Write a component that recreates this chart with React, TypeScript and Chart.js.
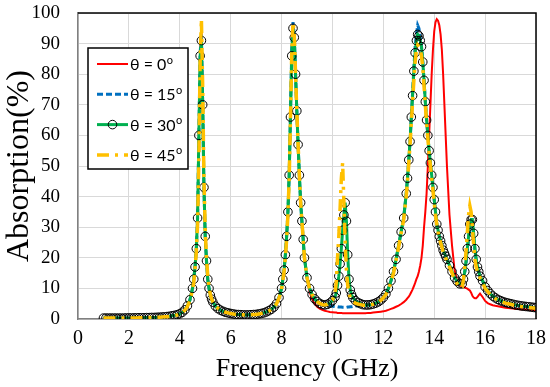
import React, { useEffect, useRef } from "react";
import { Chart, registerables } from "chart.js";

Chart.register(...registerables);

// Frequency samples (GHz)
const freq = [
  1.0, 1.1, 1.2, 1.3, 1.4, 1.5, 1.6, 1.7, 1.8, 1.9, 2.0, 2.1, 2.2, 2.3, 2.4, 2.5, 2.6, 2.7, 2.8, 2.9,
  3.0, 3.1, 3.2, 3.3, 3.4, 3.5, 3.6, 3.7, 3.8, 3.9, 4.0, 4.1, 4.2, 4.3, 4.4,
  4.5, 4.55, 4.6, 4.65, 4.7, 4.75, 4.8, 4.85, 4.9, 4.95, 5.0, 5.05, 5.1, 5.15, 5.2, 5.25, 5.3,
  5.4, 5.5, 5.6, 5.7, 5.8, 5.9, 6.0, 6.1, 6.2, 6.3, 6.4, 6.5, 6.6, 6.7, 6.8, 6.9, 7.0, 7.1, 7.2, 7.3, 7.4, 7.5, 7.6, 7.7, 7.8, 7.9, 8.0,
  8.05, 8.1, 8.15, 8.2, 8.25, 8.3, 8.35, 8.4, 8.45, 8.5, 8.55, 8.6, 8.65, 8.7, 8.75, 8.8, 8.85, 8.9,
  9.0, 9.1, 9.2, 9.3, 9.4, 9.5, 9.6, 9.7, 9.8, 9.9, 10.0, 10.1,
  10.15, 10.2, 10.25, 10.3, 10.35, 10.4, 10.45, 10.5, 10.55, 10.6, 10.65, 10.7, 10.75, 10.8,
  10.9, 11.0, 11.1, 11.2, 11.3, 11.4, 11.5, 11.6, 11.7, 11.8, 11.9, 12.0, 12.1, 12.2, 12.3, 12.4, 12.5, 12.6, 12.7, 12.8, 12.9,
  12.95, 13.0, 13.05, 13.1, 13.15, 13.2, 13.25, 13.3, 13.35, 13.4, 13.45, 13.5, 13.55, 13.6, 13.65, 13.7, 13.75, 13.8, 13.85, 13.9, 13.95, 14.0, 14.05, 14.1, 14.15, 14.2, 14.25, 14.3, 14.35, 14.4, 14.45, 14.5,
  14.6, 14.7, 14.8, 14.9, 15.0, 15.1,
  15.15, 15.2, 15.25, 15.3, 15.35, 15.4, 15.45, 15.5, 15.55, 15.6, 15.65, 15.7, 15.75, 15.8,
  15.9, 16.0, 16.1, 16.2, 16.3, 16.4, 16.5, 16.6, 16.7, 16.8, 16.9, 17.0, 17.1, 17.2, 17.3, 17.4, 17.5, 17.6, 17.7, 17.8, 17.9, 18.0,
];

// Absorption (%) for θ = 0°
const abs0 = [
  0.3, 0.3, 0.3, 0.3, 0.3, 0.3, 0.3, 0.3, 0.3, 0.35, 0.35, 0.35, 0.35, 0.4, 0.4, 0.4, 0.4, 0.45, 0.45, 0.5,
  0.5, 0.55, 0.6, 0.65, 0.7, 0.8, 0.9, 1.05, 1.2, 1.4, 1.7, 2.2, 3.0, 4.3, 6.3,
  10, 13, 17, 23, 33, 60, 88, 95, 72, 44, 27, 19, 13, 10, 7.8, 6.5, 5.5,
  4.2, 3.4, 2.9, 2.5, 2.2, 2.0, 1.8, 1.65, 1.5, 1.45, 1.4, 1.35, 1.3, 1.35, 1.4, 1.45, 1.5, 1.65, 1.8, 2.0, 2.3, 2.7, 3.2, 3.9, 5.0, 7.0, 10.0,
  13, 16, 21, 27, 35, 47, 67, 88, 97, 93, 80, 68, 57, 47, 38, 32, 26, 20,
  13, 9, 6.5, 5, 4, 3.4, 3, 2.7, 2.5, 2.3, 2.2, 2.1,
  2.1, 2.0, 2.0, 2.0, 2.0, 1.9, 1.9, 1.9, 1.9, 1.9, 1.9, 1.9, 1.9, 1.9,
  1.9, 1.9, 1.9, 1.9, 1.9, 2.0, 2.0, 2.1, 2.2, 2.3, 2.4, 2.5, 2.7, 3.0, 3.3, 3.6, 4.0, 4.4, 4.9, 5.5, 6.3,
  6.8, 7.3, 8, 8.8, 9.7, 10.7, 11.8, 13, 14, 15.5, 17.5, 20, 24, 30, 35, 41, 50, 60, 70, 80, 88, 94, 97, 98, 97.5, 96, 93, 88, 80, 70, 60, 50,
  34, 24, 16, 12.5, 11, 10.7,
  10.5, 10.3, 10.1, 9.9, 9.6, 9.3, 8.6, 7.6, 7.0, 6.8, 6.8, 7.2, 7.8, 8.3,
  7.2, 5.9, 5.2, 4.8, 4.5, 4.3, 4.15, 4.0, 3.85, 3.7, 3.6, 3.5, 3.4, 3.3, 3.25, 3.2, 3.15, 3.1, 3.05, 3.0, 2.95, 2.9,
];

// Absorption (%) for θ = 15°
const abs15 = [
  0.3, 0.3, 0.3, 0.3, 0.3, 0.3, 0.3, 0.3, 0.3, 0.35, 0.35, 0.35, 0.35, 0.4, 0.4, 0.4, 0.4, 0.45, 0.45, 0.5,
  0.5, 0.55, 0.6, 0.65, 0.7, 0.8, 0.9, 1.05, 1.2, 1.4, 1.7, 2.2, 3.0, 4.3, 6.3,
  10, 13, 17, 23, 33, 60, 87, 93, 71, 43, 27, 19, 13, 10, 7.8, 6.5, 5.5,
  4.2, 3.4, 2.9, 2.5, 2.2, 2.0, 1.8, 1.65, 1.5, 1.45, 1.4, 1.35, 1.3, 1.35, 1.4, 1.45, 1.5, 1.65, 1.8, 2.0, 2.3, 2.7, 3.2, 3.9, 5.0, 7.0, 10.0,
  13, 16, 21, 27, 35, 47, 67, 88, 97, 93, 80, 68, 57, 47, 38, 32, 26, 20,
  13.5, 10, 8, 6.6, 5.7, 5.1, 4.7, 4.5, 4.4, 4.3, 4.2, 4.1,
  4.0, 4.0, 3.9, 3.9, 3.9, 3.8, 3.8, 3.8, 3.8, 3.9, 3.9, 4.0, 4.0, 4.1,
  4.2, 4.3, 4.4, 4.5, 4.6, 4.6, 4.7, 4.9, 5.2, 5.6, 6.2, 7, 8.2, 10, 12.5, 15.5, 19.5, 24, 28.5, 33, 41,
  46, 52, 58, 66, 74, 82, 89, 93, 96, 95, 92, 89, 84, 78, 71, 65, 60, 55, 51, 47, 43, 39, 35, 31, 29, 27, 25.5, 24, 22.5, 21.5, 20.5, 19.5,
  17.5, 15.5, 13.5, 12.3, 11.5, 11.5,
  13, 15, 18, 22, 26, 29.5, 31, 31, 27, 22.5, 19, 17, 15.5, 14,
  12.5, 10.5, 9.3, 8.3, 7.5, 6.9, 6.4, 6.0, 5.7, 5.4, 5.2, 5.0, 4.8, 4.6, 4.45, 4.3, 4.2, 4.1, 4.0, 3.9, 3.8, 3.7,
];

// Absorption (%) for θ = 30°
const abs30 = [
  0.3, 0.3, 0.3, 0.3, 0.3, 0.3, 0.3, 0.3, 0.3, 0.35, 0.35, 0.35, 0.35, 0.4, 0.4, 0.4, 0.4, 0.45, 0.45, 0.5,
  0.5, 0.55, 0.6, 0.65, 0.7, 0.8, 0.9, 1.05, 1.2, 1.4, 1.7, 2.2, 3.0, 4.3, 6.3,
  10, 13, 17, 23, 33, 60, 86, 91, 70, 43, 27, 19, 13, 10, 7.8, 6.5, 5.5,
  4.2, 3.4, 2.9, 2.5, 2.2, 2.0, 1.8, 1.65, 1.5, 1.45, 1.4, 1.35, 1.3, 1.35, 1.4, 1.45, 1.5, 1.65, 1.8, 2.0, 2.3, 2.7, 3.2, 3.9, 5.0, 7.0, 10.0,
  13, 16, 21, 27, 35, 47, 66, 86, 95, 92, 80, 68, 57, 47, 38, 32, 26, 20,
  13.5, 10, 8, 6.6, 5.7, 5.1, 4.7, 4.6, 4.8, 5.2, 6.0, 7.2,
  8.5, 11, 14, 18, 23, 29, 34, 38, 32, 21, 13, 9.5, 8, 7,
  6, 5.4, 5, 4.7, 4.6, 4.6, 4.7, 4.9, 5.2, 5.6, 6.2, 7, 8.2, 10, 12.5, 15.5, 19.5, 24, 28.5, 33, 41,
  46, 52, 58, 66, 73, 81, 87, 91, 93, 92.5, 91, 89, 84, 78, 71, 65, 60, 55, 51, 47, 43, 39, 35, 31, 29, 27, 25.5, 24, 22.5, 21.5, 20.5, 19.5,
  17.5, 15.5, 13.5, 12.3, 11.5, 11.5,
  13, 15.5, 19, 23, 27, 31, 32.5, 32.5, 28, 23, 19.5, 17, 15.5, 14,
  12.5, 10.5, 9.3, 8.3, 7.5, 6.9, 6.4, 6.0, 5.7, 5.4, 5.2, 5.0, 4.8, 4.6, 4.45, 4.3, 4.2, 4.1, 4.0, 3.9, 3.8, 3.7,
];

// Absorption (%) for θ = 45°
const abs45 = [
  0.3, 0.3, 0.3, 0.3, 0.3, 0.3, 0.3, 0.3, 0.3, 0.3, 0.35, 0.35, 0.35, 0.35, 0.4, 0.4, 0.4, 0.4, 0.45, 0.45,
  0.5, 0.55, 0.6, 0.65, 0.7, 0.75, 0.85, 1.0, 1.1, 1.3, 1.6, 2.1, 2.9, 4.1, 6.0,
  9.5, 12, 16, 22, 31, 52, 84, 98, 76, 46, 29, 20, 14, 10.5, 8, 6.6, 5.6,
  4.3, 3.5, 2.9, 2.5, 2.2, 2.0, 1.8, 1.65, 1.5, 1.45, 1.4, 1.35, 1.3, 1.35, 1.4, 1.45, 1.5, 1.65, 1.8, 2.0, 2.3, 2.6, 3.1, 3.8, 4.9, 6.8, 9.7,
  12.5, 15.5, 20, 26, 34, 46, 65, 87, 97, 93, 80, 68, 57, 47, 38, 32, 26, 20,
  13.5, 10, 8, 6.6, 5.7, 5.1, 4.7, 4.6, 4.8, 5.3, 6.2, 8,
  12, 20, 27, 36, 46, 51, 38, 25, 16, 11, 8.5, 7, 6.2, 5.7,
  5.2, 4.9, 4.7, 4.5, 4.5, 4.5, 4.6, 4.8, 5.1, 5.5, 6.1, 6.9, 8, 9.7, 12, 15, 19, 23.5, 28, 32.5, 40,
  45, 51, 57, 64, 71, 78, 84, 88, 89.5, 89, 88, 86, 82, 76, 70, 64, 59, 54, 50, 46, 42, 38, 34, 31, 28.5, 26.5, 25, 23.5, 22, 21, 20, 19,
  17, 15, 13, 11.5, 10.3, 10.5,
  13, 17, 22, 28, 34, 37, 35, 30, 24, 19.5, 17, 15.5, 14.5, 13.5,
  12, 10, 9, 8, 7.2, 6.6, 6.2, 5.8, 5.5, 5.2, 5.0, 4.8, 4.6, 4.4, 4.25, 4.1, 4.0, 3.9, 3.8, 3.7, 3.6, 3.5,
];

const seriesLabels = ["θ = 0", "θ = 15", "θ = 30", "θ = 45"];
const xTitle = "Frequency (GHz)";
const yTitle = "Absorption(%)";

const toPoints = (vals: number[]) => freq.map((f, i) => ({ x: f, y: vals[i] }));

const legendPlugin = {
  id: "boxLegend",
  afterDraw(chart: any) {
    const ctx = chart.ctx;
    const ca = chart.chartArea;
    const x0 = ca.left + 10;
    const y0 = ca.top + 35;
    const w = 100;
    const h = 121;
    ctx.save();
    ctx.fillStyle = "#ffffff";
    ctx.fillRect(x0, y0, w, h);
    ctx.strokeStyle = "#000000";
    ctx.lineWidth = 1.5;
    ctx.strokeRect(x0, y0, w, h);
    seriesLabels.forEach((lab, i) => {
      const ds = chart.data.datasets[i];
      const y = y0 + 16 + i * 30.3;
      ctx.save();
      ctx.strokeStyle = ds.borderColor;
      ctx.lineWidth = ds.borderWidth;
      ctx.setLineDash(ds.borderDash || []);
      ctx.beginPath();
      ctx.moveTo(x0 + 9, y);
      ctx.lineTo(x0 + 40, y);
      ctx.stroke();
      ctx.restore();
      if (ds.pointRadius > 0) {
        ctx.save();
        ctx.strokeStyle = ds.pointBorderColor;
        ctx.lineWidth = ds.pointBorderWidth;
        ctx.beginPath();
        ctx.arc(x0 + 24.5, y, ds.pointRadius, 0, Math.PI * 2);
        ctx.stroke();
        ctx.restore();
      }
      ctx.fillStyle = "#000000";
      ctx.textBaseline = "middle";
      ctx.textAlign = "left";
      ctx.font = "16px Lato";
      ctx.fillText(lab, x0 + 42, y + 1);
      const tw = ctx.measureText(lab).width;
      ctx.font = "11px Lato";
      ctx.fillText("o", x0 + 42 + tw + 0.5, y - 4);
    });
    ctx.restore();
  },
};

const framePlugin = {
  id: "frame",
  afterDatasetsDraw(chart: any) {
    const ctx = chart.ctx;
    const ca = chart.chartArea;
    ctx.save();
    ctx.strokeStyle = "#000000";
    ctx.lineWidth = 1.5;
    ctx.beginPath();
    ctx.moveTo(ca.left, ca.top);
    ctx.lineTo(ca.right, ca.top);
    ctx.lineTo(ca.right, ca.bottom);
    ctx.stroke();
    ctx.restore();
  },
};

export default function App() {
  const ref = useRef<HTMLCanvasElement | null>(null);

  useEffect(() => {
    document.body.style.margin = "0";
    const canvas = ref.current;
    if (!canvas) return;
    const chart = new Chart(canvas, {
      type: "line",
      data: {
        datasets: [
          {
            label: seriesLabels[0] + "°",
            data: toPoints(abs0),
            borderColor: "#FF0000",
            borderWidth: 2,
            pointRadius: 0,
            tension: 0,
            order: 3,
          },
          {
            label: seriesLabels[1] + "°",
            data: toPoints(abs15),
            borderColor: "#0070C0",
            borderWidth: 3,
            borderDash: [6, 3],
            pointRadius: 0,
            tension: 0,
            order: 2,
          },
          {
            label: seriesLabels[2] + "°",
            data: toPoints(abs30),
            borderColor: "#00B050",
            borderWidth: 3,
            pointRadius: 4.3,
            pointBorderColor: "#000000",
            pointBorderWidth: 1,
            pointBackgroundColor: "rgba(0,0,0,0)",
            tension: 0,
            order: 1,
          },
          {
            label: seriesLabels[3] + "°",
            data: toPoints(abs45),
            borderColor: "#FFC000",
            borderWidth: 3.5,
            borderDash: [12, 6, 3, 6],
            pointRadius: 0,
            tension: 0,
            order: 0,
          },
        ],
      },
      options: {
        animation: false,
        responsive: false,
        devicePixelRatio: 1,
        layout: { padding: 0 },
        plugins: {
          legend: { display: false },
          tooltip: { enabled: false },
        },
        scales: {
          x: {
            type: "linear",
            min: 0,
            max: 18,
            ticks: {
              stepSize: 2,
              color: "#000000",
              padding: 8,
              font: { family: "Liberation Serif", size: 20 },
            },
            grid: { color: "#d9d9d9", lineWidth: 1, drawTicks: false },
            border: { color: "#808080", width: 1.5 },
            title: {
              display: true,
              text: xTitle,
              color: "#000000",
              font: { family: "Liberation Serif", size: 26 },
              padding: { top: 0, bottom: 2 },
            },
            afterFit: (scale: any) => {
              scale.height = 68;
              scale.paddingLeft = 0;
              scale.paddingRight = 14;
            },
          },
          y: {
            min: 0,
            max: 100,
            ticks: {
              stepSize: 10,
              color: "#000000",
              padding: 18,
              font: { family: "Liberation Serif", size: 19 },
            },
            grid: { color: "#d9d9d9", lineWidth: 1, drawTicks: false },
            border: { color: "#808080", width: 1.5 },
            title: {
              display: true,
              text: yTitle,
              color: "#000000",
              font: { family: "Liberation Serif", size: 32 },
              padding: { top: 0, bottom: 0 },
            },
            afterFit: (scale: any) => {
              scale.width = 78;
              scale.paddingTop = 13;
              scale.paddingBottom = 0;
            },
          },
        },
      },
      plugins: [framePlugin, legendPlugin],
    });
    return () => chart.destroy();
  }, []);

  return <canvas ref={ref} width={550} height={387} style={{ display: "block" }} />;
}
